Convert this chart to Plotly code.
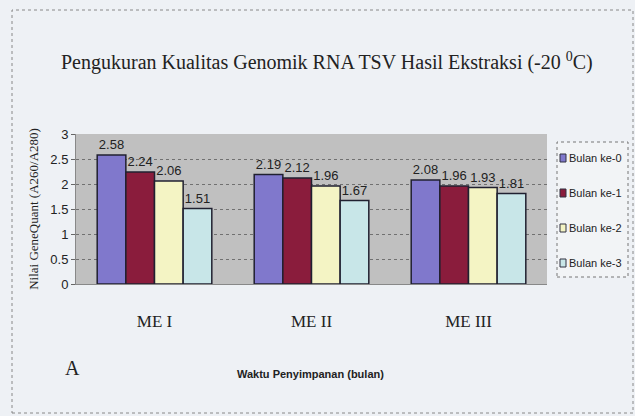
import plotly.graph_objects as go

categories = ["ME I", "ME II", "ME III"]
series_names = ["Bulan ke-0", "Bulan ke-1", "Bulan ke-2", "Bulan ke-3"]
bulan0 = [2.58, 2.19, 2.08]
bulan1 = [2.24, 2.12, 1.96]
bulan2 = [2.06, 1.96, 1.93]
bulan3 = [1.51, 1.67, 1.81]
y_ticks = [0, 0.5, 1, 1.5, 2, 2.5, 3]
y_tick_labels = ["0", "0.5", "1", "1.5", "2", "2.5", "3"]

colors = ["#8078cc", "#8a1c3c", "#f4f4c4", "#c8e6e8"]
narrow = "Liberation Sans, Arial, sans-serif"
serif = "Liberation Serif, Times New Roman, serif"

W, H = 635, 416
L, R, T, B = 76, 88, 134, 132
PW, PH = W - L - R, H - T - B


def px(x):
    return (x - L) / PW


def py(y):
    return (H - B - y) / PH


fig = go.Figure()
for i, (name, vals, c) in enumerate(zip(series_names, [bulan0, bulan1, bulan2, bulan3], colors)):
    fig.add_trace(go.Bar(
        x=categories, y=vals, name=name,
        marker=dict(color=c, line=dict(color="#202030", width=1.5)),
        text=[f"{v:.2f}" for v in vals], textposition="outside",
        textfont=dict(family=narrow, size=13, color="#222"),
        cliponaxis=False, showlegend=False,
    ))

# manual legend (box, swatches, labels)
shapes = [
    dict(type="rect", xref="paper", yref="paper",
         x0=px(12), x1=px(633), y0=py(413), y1=py(10),
         line=dict(color="#888", width=1, dash="dot")),
    dict(type="rect", xref="paper", yref="paper",
         x0=px(557), x1=px(628), y0=py(277), y1=py(142),
         fillcolor="#f2f4f6", line=dict(color="#777", width=1, dash="dot")),
]
annotations = []
item_y = [158, 193, 228, 263]
for name, c, yy in zip(series_names, colors, item_y):
    shapes.append(dict(type="rect", xref="paper", yref="paper",
                       x0=px(560), x1=px(566), y0=py(yy + 4), y1=py(yy - 4),
                       fillcolor=c, line=dict(color="#303040", width=1)))
    annotations.append(dict(text=name, xref="paper", yref="paper",
                            x=px(567), y=py(yy), xanchor="left", yanchor="middle",
                            showarrow=False,
                            font=dict(family=narrow, size=11, color="#222")))

annotations += [
    dict(text="Pengukuran Kualitas Genomik RNA TSV Hasil Ekstraksi (-20 <sup>0</sup>C)",
         xref="paper", yref="paper", x=px(327), y=py(47), showarrow=False,
         font=dict(family=serif, size=20, color="#222")),
    dict(text="<b>Waktu Penyimpanan (bulan)</b>", xref="paper", yref="paper",
         x=px(310), y=py(382), showarrow=False,
         font=dict(family=narrow, size=11, color="#222")),
    dict(text="A", xref="paper", yref="paper", x=px(63), y=py(381), showarrow=False,
         font=dict(family=serif, size=20, color="#222")),
]

fig.update_layout(
    width=W, height=H,
    margin=dict(l=L, r=R, t=T, b=B, autoexpand=False),
    paper_bgcolor="#eef1f5",
    plot_bgcolor="#c0c0c0",
    barmode="group", bargap=0.27, bargroupgap=0,
    showlegend=False,
    xaxis=dict(
        tickfont=dict(family=serif, size=17, color="#222"),
        ticks="", showline=True, linecolor="#888", ticklabelstandoff=22,
    ),
    yaxis=dict(
        range=[0, 3], tickvals=y_ticks, ticktext=y_tick_labels,
        tickfont=dict(family=narrow, size=13, color="#222"),
        showgrid=True, gridcolor="#707070", griddash="dot", gridwidth=1,
        showline=True, linecolor="#888", ticks="outside", ticklen=4, tickcolor="#666",
        zeroline=False,
        title=dict(text="Nilai GeneQuant (A260/A280)", font=dict(family=serif, size=13, color="#222"), standoff=8),
    ),
    shapes=shapes,
    annotations=annotations,
)

fig.write_html("out.html", config={"displayModeBar": False},
               post_script="document.body.style.margin='0';document.body.style.overflow='hidden';")
